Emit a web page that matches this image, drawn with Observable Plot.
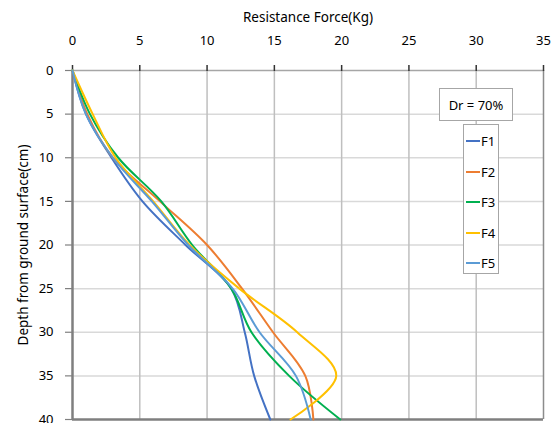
<!DOCTYPE html>
<html>
<head>
<meta charset="utf-8">
<script src="https://cdn.jsdelivr.net/npm/d3@7"></script>
<script src="https://cdn.jsdelivr.net/npm/@observablehq/plot@0.6"></script>
<style>
  html, body { margin: 0; padding: 0; background: #fff; }
  #wrap { position: relative; width: 557px; height: 423px; font-family: "Noto Sans", sans-serif; }
  .box { position: absolute; background: #fff; border: 1px solid #a6a6a6; font-size: 13px; color: #000; }
  .item { position: absolute; left: 2px; display: flex; align-items: center; }
  .sw { width: 14px; height: 2px; margin-right: 1px; }
</style>
</head>
<body>
<div id="wrap"></div>
<script>
const depth = [0, 5, 10, 15, 20, 25, 30, 35, 40];
const F1 = [0, 1.0, 2.9, 5.2, 8.4, 11.8, 12.8, 13.5, 14.7];
const F2 = [0, 1.1, 3.0, 6.5, 10.0, 12.6, 14.9, 17.3, 17.9];
const F3 = [0, 1.3, 3.4, 6.6, 8.9, 11.8, 13.3, 16.1, 19.9];
const F4 = [0, 1.5, 3.2, 6.0, 8.7, 12.4, 16.7, 19.6, 16.2];
const F5 = [0, 1.0, 3.0, 5.9, 8.6, 11.9, 13.9, 16.6, 17.7];
const seriesNames = ["F1", "F2", "F3", "F4", "F5"];
const seriesColors = ["#4472C4", "#ED7D31", "#00B050", "#FFC000", "#5B9BD5"];
const xTicks = [0, 5, 10, 15, 20, 25, 30, 35];
const yTicks = [0, 5, 10, 15, 20, 25, 30, 35, 40];
const xLabel = "Resistance Force(Kg)";
const yLabel = "Depth from ground surface(cm)";
const noteText = "Dr = 70%";

const seriesVals = [F1, F2, F3, F4, F5];
const rows = [];
seriesNames.forEach((s, i) => depth.forEach((d, j) => rows.push({series: s, depth: d, force: seriesVals[i][j]})));

const plot = Plot.plot({
  width: 557, height: 423,
  marginTop: 70, marginLeft: 72, marginRight: 14, marginBottom: 4,
  style: {fontFamily: "Noto Sans, sans-serif", fontSize: "13px", color: "#000", background: "#fff"},
  x: {domain: [0, 35]},
  y: {domain: [0, 40], reverse: true},
  color: {domain: seriesNames, range: seriesColors},
  marks: [
    Plot.ruleY(yTicks.filter(d => d > 0 && d < 40), {stroke: "#d9d9d9", strokeWidth: 1.5}),
    Plot.ruleX(xTicks.filter(d => d > 0 && d < 35), {stroke: "#bfbfbf", strokeWidth: 1.5}),
    Plot.ruleX([35], {stroke: "#8c8c8c", strokeWidth: 1.5}),
    Plot.ruleY([0], {stroke: "#a6a6a6", strokeWidth: 1.5}),
    Plot.ruleY([40], {stroke: "#7f7f7f", strokeWidth: 2.5}),
    Plot.ruleX([0], {stroke: "#7f7f7f", strokeWidth: 2.5}),
    Plot.axisX({anchor: "top", ticks: xTicks, tickSize: 6, tickPadding: 20, label: null, stroke: "#333", strokeWidth: 1.5, fontSize: 13}),
    Plot.axisY({anchor: "left", ticks: yTicks, tickSize: 7, tickPadding: 12, label: null, stroke: "#808080", strokeWidth: 1.2, fontSize: 13}),
    Plot.text([xLabel], {frameAnchor: "top", dy: -53, textAnchor: "middle", lineAnchor: "middle", fontSize: 13.5}),
    Plot.text([yLabel], {frameAnchor: "left", rotate: -90, dx: -49, textAnchor: "middle", lineAnchor: "middle", fontSize: 13.5}),
    Plot.line(rows, {x: "force", y: "depth", z: "series", stroke: "series", strokeWidth: 2, curve: "catmull-rom"})
  ]
});

const wrap = document.getElementById("wrap");
wrap.appendChild(plot);

const note = document.createElement("div");
note.className = "box";
note.style.cssText = "left:439px;top:88px;width:72px;height:31px;display:flex;align-items:center;justify-content:center;";
note.textContent = noteText;
wrap.appendChild(note);

const leg = document.createElement("div");
leg.className = "box";
leg.style.cssText = "left:463px;top:124px;width:34px;height:148px;";
seriesNames.forEach((s, i) => {
  const it = document.createElement("div");
  it.className = "item";
  it.style.top = (7 + i * 30.5) + "px";
  const sw = document.createElement("span");
  sw.className = "sw";
  sw.style.background = seriesColors[i];
  const t = document.createElement("span");
  t.textContent = s;
  it.appendChild(sw); it.appendChild(t);
  leg.appendChild(it);
});
wrap.appendChild(leg);
</script>
</body>
</html>
